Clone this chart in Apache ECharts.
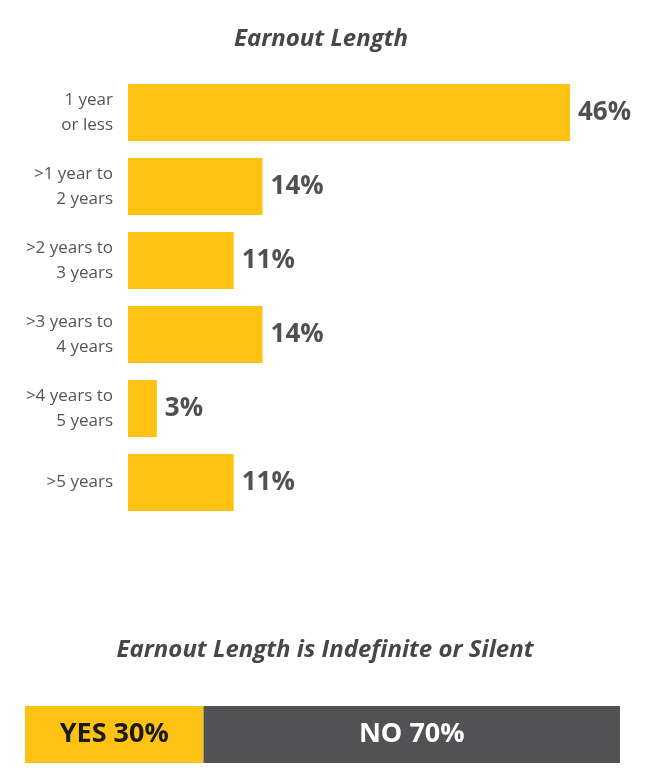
<!DOCTYPE html>
<html><head><meta charset="utf-8">
<script src="https://cdn.jsdelivr.net/npm/echarts@6/dist/echarts.min.js"></script>
<style>html,body{margin:0;padding:0;background:#fff}#c{width:650px;height:781px}</style>
</head><body><div id="c"></div>
<script>
const categories = ['1 year\nor less', '>1 year to\n2 years', '>2 years to\n3 years', '>3 years to\n4 years', '>4 years to\n5 years', '>5 years'];
const lengthValues = [46, 14, 11, 14, 3, 11];
const silentCategories = ['Earnout Length is Indefinite or Silent'];
const yesValues = [30];
const noValues = [70];

const FONT = '"Open Sans", Lato, sans-serif';
const YELLOW = '#FEC312';
const GREY = '#525255';
const chart = echarts.init(document.getElementById('c'), null, {renderer: 'canvas'});
chart.setOption({
  animation: false,
  backgroundColor: '#fff',
  title: [
    {text: 'Earnout Length', left: 316, top: 22, textAlign: 'center',
     textStyle: {fontFamily: FONT, fontSize: 24, fontWeight: 'bold', fontStyle: 'italic', color: '#474747'}},
    {text: 'Earnout Length is Indefinite or Silent', left: 320, top: 633, textAlign: 'center',
     textStyle: {fontFamily: FONT, fontSize: 24, fontWeight: 'bold', fontStyle: 'italic', color: '#474747'}}
  ],
  grid: [
    {left: 128, top: 75.5, width: 442, height: 444},
    {left: 25, top: 706, width: 595, height: 57}
  ],
  xAxis: [
    {gridIndex: 0, type: 'value', min: 0, max: 46, show: false},
    {gridIndex: 1, type: 'value', min: 0, max: 100, show: false}
  ],
  yAxis: [
    {gridIndex: 0, type: 'category', data: categories, inverse: true,
     axisLine: {show: false}, axisTick: {show: false},
     axisLabel: {fontFamily: FONT, fontSize: 17, lineHeight: 25, color: '#555', margin: 15, align: 'right'}},
    {gridIndex: 1, type: 'category', data: silentCategories, show: false}
  ],
  series: [
    {type: 'bar', xAxisIndex: 0, yAxisIndex: 0, data: lengthValues, barWidth: 57,
     itemStyle: {color: YELLOW},
     label: {show: true, position: 'right', distance: 8, formatter: '{c}%',
       fontFamily: FONT, fontSize: 26, fontWeight: 'bold', color: '#505050'}},
    {type: 'bar', xAxisIndex: 1, yAxisIndex: 1, stack: 's', data: yesValues, barWidth: 57,
     itemStyle: {color: YELLOW},
     label: {show: true, position: 'inside', formatter: 'YES {c}%',
       fontFamily: FONT, fontSize: 27, fontWeight: 'bold', color: '#1a1a1a'}},
    {type: 'bar', xAxisIndex: 1, yAxisIndex: 1, stack: 's', data: noValues, barWidth: 57,
     itemStyle: {color: GREY},
     label: {show: true, position: 'inside', formatter: 'NO {c}%',
       fontFamily: FONT, fontSize: 27, fontWeight: 'bold', color: '#fff'}}
  ]
});
</script></body></html>
